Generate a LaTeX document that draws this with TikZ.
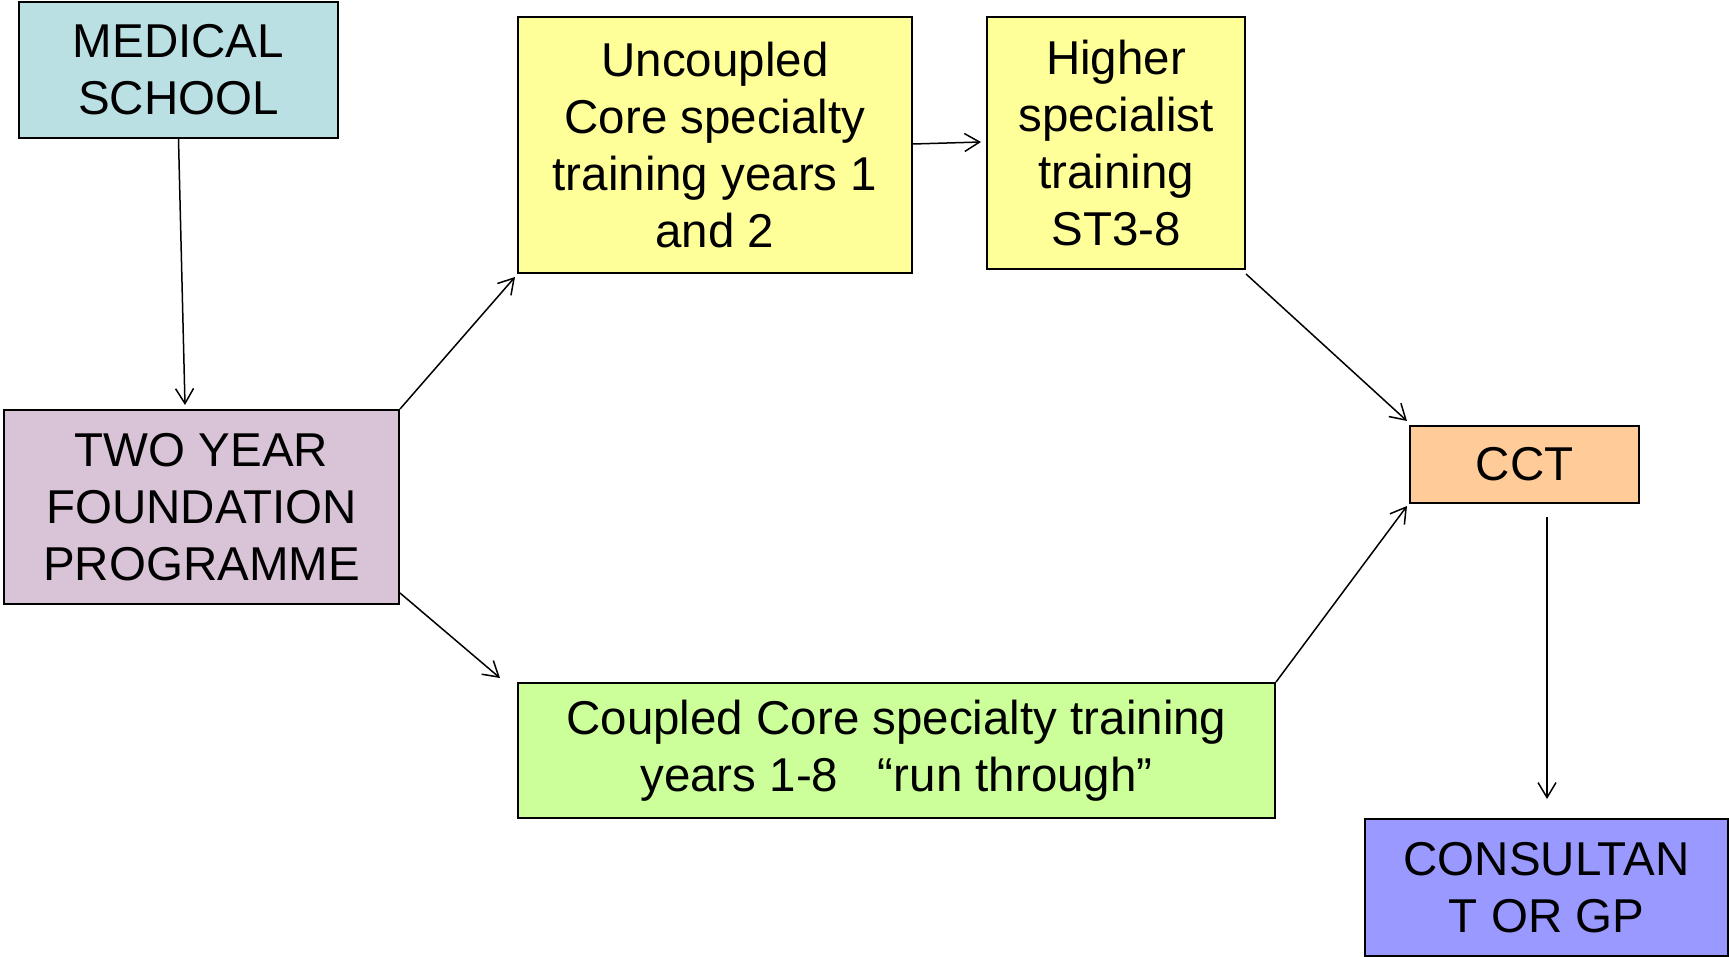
\documentclass[tikz,border=0pt]{standalone}
\usepackage{fontspec}
\setmainfont{Liberation Sans}
\usetikzlibrary{arrows.meta,calc}
\definecolor{medc}{RGB}{187,224,228}
\definecolor{foundc}{RGB}{216,196,214}
\definecolor{yelc}{RGB}{255,255,153}
\definecolor{cctc}{RGB}{255,204,153}
\definecolor{coupc}{RGB}{204,255,153}
\definecolor{consc}{RGB}{153,153,255}
\begin{document}
\begin{tikzpicture}[x=1pt,y=-1pt,
  box/.style={draw=black,line width=2pt,inner sep=0pt,align=center,
    font=\fontsize{47.5}{57}\selectfont},
  arr/.style={line width=1.5pt,-{Straight Barb[length=15pt,width=18pt]}}]
\useasboundingbox (0,0) rectangle (1729,957);
\node[box,fill=medc,minimum width=319pt,minimum height=136pt] (med) at (178.5,70) {MEDICAL\\SCHOOL};
\node[box,fill=foundc,minimum width=395pt,minimum height=194pt] (found) at (201.5,507) {TWO YEAR\\FOUNDATION\\PROGRAMME};
\node[box,fill=yelc,minimum width=394pt,minimum height=256pt] (unc) at (715,145) {Uncoupled\\Core specialty\\training years 1\\and 2};
\node[box,fill=yelc,minimum width=258pt,minimum height=252pt] (high) at (1116,143) {Higher\\specialist\\training\\ST3-8};
\node[box,fill=cctc,minimum width=229pt,minimum height=77pt] (cct) at (1524.5,464.5) {CCT};
\node[box,fill=coupc,minimum width=757pt,minimum height=135pt] (coup) at (896.5,750.5) {Coupled Core specialty training\\years 1-8~~~“run through”};
\node[box,fill=consc,minimum width=363pt,minimum height=137pt] (cons) at (1546.5,887.5) {CONSULTAN\\T OR GP};
\draw[arr] (med.south) -- ($(found.north)+(-16.5,-4)$);
\draw[arr] (found.north east) -- ($(unc.south west)+(-2,3)$);
\draw[arr] ($(found.south east)+(0,-12)$) -- ($(coup.north west)+(-17,-4)$);
\draw[arr] ($(unc.east)+(0,-1)$) -- ($(high.west)+(-5,-1)$);
\draw[arr] ($(high.south east)+(0,4)$) -- ($(cct.north west)+(-2,-4)$);
\draw[arr] (coup.north east) -- ($(cct.south west)+(-2,2)$);
\draw[arr] ($(cct.south)+(22.5,13)$) -- ($(cons.north)+(0.5,-19)$);
\end{tikzpicture}
\end{document}
